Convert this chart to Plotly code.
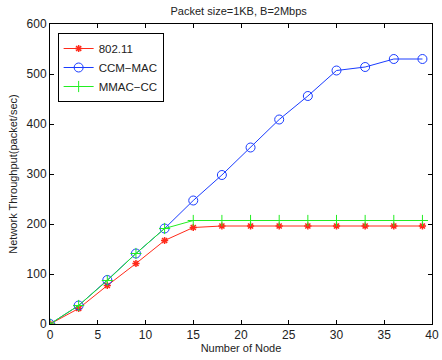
import plotly.graph_objects as go

nodes = [0, 3, 6, 9, 12, 15, 18, 21, 24, 27, 30, 33, 36, 39]
s80211 = [0, 31, 77, 121, 167, 193, 196, 196, 196, 196, 196, 196, 196, 196]
ccm_mac = [0, 37, 88, 141, 191, 247, 298, 353, 409, 456, 507, 514, 530, 530]
mmac_cc = [0, 37, 87, 141, 191, 207, 207, 207, 207, 207, 207, 207, 207, 207]
x_ticks = [0, 5, 10, 15, 20, 25, 30, 35, 40]
y_ticks = [0, 100, 200, 300, 400, 500, 600]

fig = go.Figure()
fig.add_trace(go.Scatter(x=nodes, y=s80211, name="802.11", mode="lines+markers",
                         line=dict(color="#ff2a1a", width=1),
                         marker=dict(symbol="asterisk-open", size=6,
                                     line=dict(color="#ff2a1a", width=1.5))))
fig.add_trace(go.Scatter(x=nodes, y=ccm_mac, name="CCM\u2212MAC", mode="lines+markers",
                         line=dict(color="#1a3cff", width=1),
                         marker=dict(symbol="circle-open", size=9,
                                     line=dict(color="#1a3cff", width=1))))
fig.add_trace(go.Scatter(x=nodes, y=mmac_cc, name="MMAC\u2212CC", mode="lines+markers",
                         line=dict(color="#22ee22", width=1),
                         marker=dict(symbol="cross-thin-open", size=8,
                                     line=dict(color="#22ee22", width=1))))

axis_common = dict(showgrid=False, zeroline=False, showline=True, linecolor="black",
                   linewidth=1, mirror="ticks", ticks="inside", ticklen=4,
                   tickcolor="black", tickfont=dict(size=12, color="#222"),
                   automargin=False)
fig.update_layout(
    width=442, height=360,
    margin=dict(l=50, r=10, t=24, b=36),
    paper_bgcolor="white", plot_bgcolor="white",
    font=dict(family="Liberation Sans, Arial, sans-serif", size=11, color="#222"),
    title=dict(text="Packet size=1KB, B=2Mbps", x=0.54, xanchor="center",
               y=0.969, yanchor="middle", font=dict(size=11)),
    xaxis=dict(range=[0, 40], tickvals=x_ticks,
               title=dict(text="Number of Node", standoff=0, font=dict(size=11)),
               **axis_common),
    yaxis=dict(range=[0, 600], tickvals=y_ticks,
               title=dict(text="Network Throughput(packet/sec)", standoff=6, font=dict(size=11)),
               **axis_common),
    legend=dict(x=0.02, y=0.97, xanchor="left", yanchor="top",
                bordercolor="black", borderwidth=1, bgcolor="white",
                font=dict(size=11.5), tracegroupgap=0, itemwidth=30),
    showlegend=True,
)
fig.write_html("out.html", config={"displayModeBar": False},
               post_script="document.body.style.margin='0';")
